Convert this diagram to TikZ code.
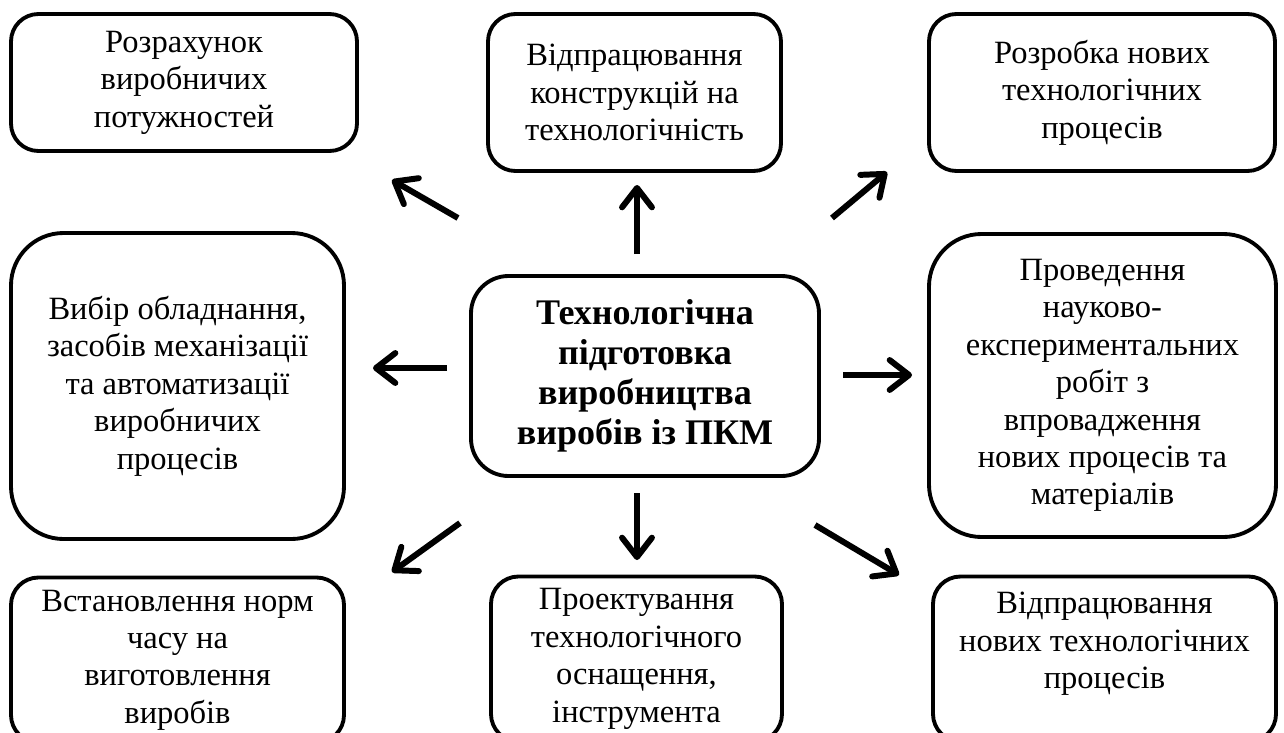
\documentclass[tikz,border=0pt]{standalone}
\usepackage{fontspec}
\setmainfont{Liberation Serif}
\usetikzlibrary{arrows.meta}
\tikzset{
  rbox/.style={draw, line width=2.2pt, rounded corners=#1, align=center, inner sep=2pt,
    font=\fontsize{18.5}{21.3}\selectfont},
  rbox/.default=0.55cm,
  arr/.style={line width=3.4pt, -{Straight Barb[length=11pt, width=17pt, line cap=round, line join=round]}}
}

\begin{document}
\begin{tikzpicture}
    \useasboundingbox (0,0) rectangle (25.68,-14.66);

    % centre
    \node[rbox=0.75cm, minimum width=6.96cm, minimum height=4.0cm,
          font=\bfseries\fontsize{20.5}{22.8}\selectfont] (tpv) at (12.9,-7.52)
      {Технологічна\\підготовка\\виробництва\\виробів із ПКМ};

    % top row
    \node[rbox, minimum width=6.92cm, minimum height=2.74cm] (rvp) at (3.68,-1.65)
      {Розрахунок\\виробничих\\потужностей};
    \node[rbox, minimum width=5.86cm, minimum height=3.14cm] (vkt) at (12.69,-1.85)
      {Відпрацювання\\конструкцій на\\технологічність};
    \node[rbox, minimum width=6.92cm, minimum height=3.14cm] (rnt) at (22.04,-1.85)
      {Розробка нових\\технологічних\\процесів};

    % middle row
    \node[rbox=1.05cm, minimum width=6.66cm, minimum height=6.12cm] (vob) at (3.55,-7.72)
      {Вибір обладнання,\\засобів механізації\\та автоматизації\\виробничих\\процесів};
    \node[rbox=1.05cm, minimum width=6.94cm, minimum height=6.06cm] (pnr) at (22.05,-7.71)
      {Проведення\\науково-\\експериментальних\\робіт з\\впровадження\\нових процесів та\\матеріалів};

    % bottom row
    \node[rbox, minimum width=6.66cm, minimum height=3.3cm] (vnc) at (3.55,-13.2)
      {Встановлення норм\\часу на\\виготовлення\\виробів};
    \node[rbox, minimum width=5.82cm, minimum height=3.3cm] (pto) at (12.73,-13.18)
      {Проектування\\технологічного\\оснащення,\\інструмента};
    \node[rbox, minimum width=6.86cm, minimum height=3.3cm] (vnt) at (22.09,-13.18)
      {Відпрацювання\\нових технологічних\\процесів\\~};

    % arrow ends
    \coordinate (up-s) at (12.74,-5.08);  \coordinate (up-e) at (12.74,-3.70);
    \coordinate (dn-s) at (12.74,-9.86);  \coordinate (dn-e) at (12.74,-11.2);
    \coordinate (lt-s) at (8.94,-7.36);   \coordinate (lt-e) at (7.46,-7.36);
    \coordinate (rt-s) at (16.86,-7.5);   \coordinate (rt-e) at (18.24,-7.5);
    \coordinate (ul-s) at (9.16,-4.36);   \coordinate (ul-e) at (7.84,-3.6);
    \coordinate (ur-s) at (16.64,-4.36);  \coordinate (ur-e) at (17.74,-3.44);
    \coordinate (ll-s) at (9.2,-10.46);   \coordinate (ll-e) at (7.84,-11.44);
    \coordinate (lr-s) at (16.3,-10.5);   \coordinate (lr-e) at (17.98,-11.5);

    \foreach \a in {up,dn,lt,rt,ul,ur,ll,lr}
      \draw[arr] (\a-s) -- (\a-e);
\end{tikzpicture}
\end{document}
